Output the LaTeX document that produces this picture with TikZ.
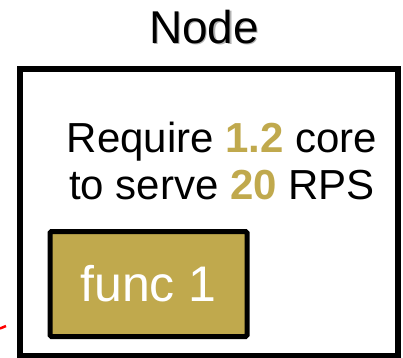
\documentclass[tikz,border=0pt]{standalone}
\usepackage{fontspec}
\setmainfont{Liberation Sans}
\definecolor{gold}{HTML}{C0A94D}
\begin{document}
\begin{tikzpicture}[x=1pt,y=-1pt,
  title/.style={font=\fontsize{46}{50}\selectfont, inner sep=0pt, anchor=base},
  nodebox/.style={draw=black, line width=6pt},
  funcbox/.style={draw=black, line width=5pt, fill=gold, rounded corners=1.5pt},
  info/.style={font=\fontsize{42}{47}\selectfont, inner sep=0pt, align=center, anchor=north}]
\useasboundingbox (0,0) rectangle (403,357);
% title with soft drop shadow
\node[title, text=black!30] at (205.5,44.5) {Node};
\node[title] (title) at (204,43) {Node};
% outer node box
\draw[nodebox] (20,69) rectangle (398,356);
% requirement text
\node[info] (req) at (222,121.5) {Require \textcolor{gold}{\textbf{1.2}} core\\to serve \textcolor{gold}{\textbf{20}} RPS};
% function box
\node[funcbox, minimum width=197pt, minimum height=105pt, inner sep=0pt,
      font=\fontsize{50}{54}\selectfont, text=white] (func) at (148.5,284) {func 1};
% small red stroke at the left edge
\draw[red, line width=2.5pt] (0,328.5) -- (6,326);
\end{tikzpicture}
\end{document}
